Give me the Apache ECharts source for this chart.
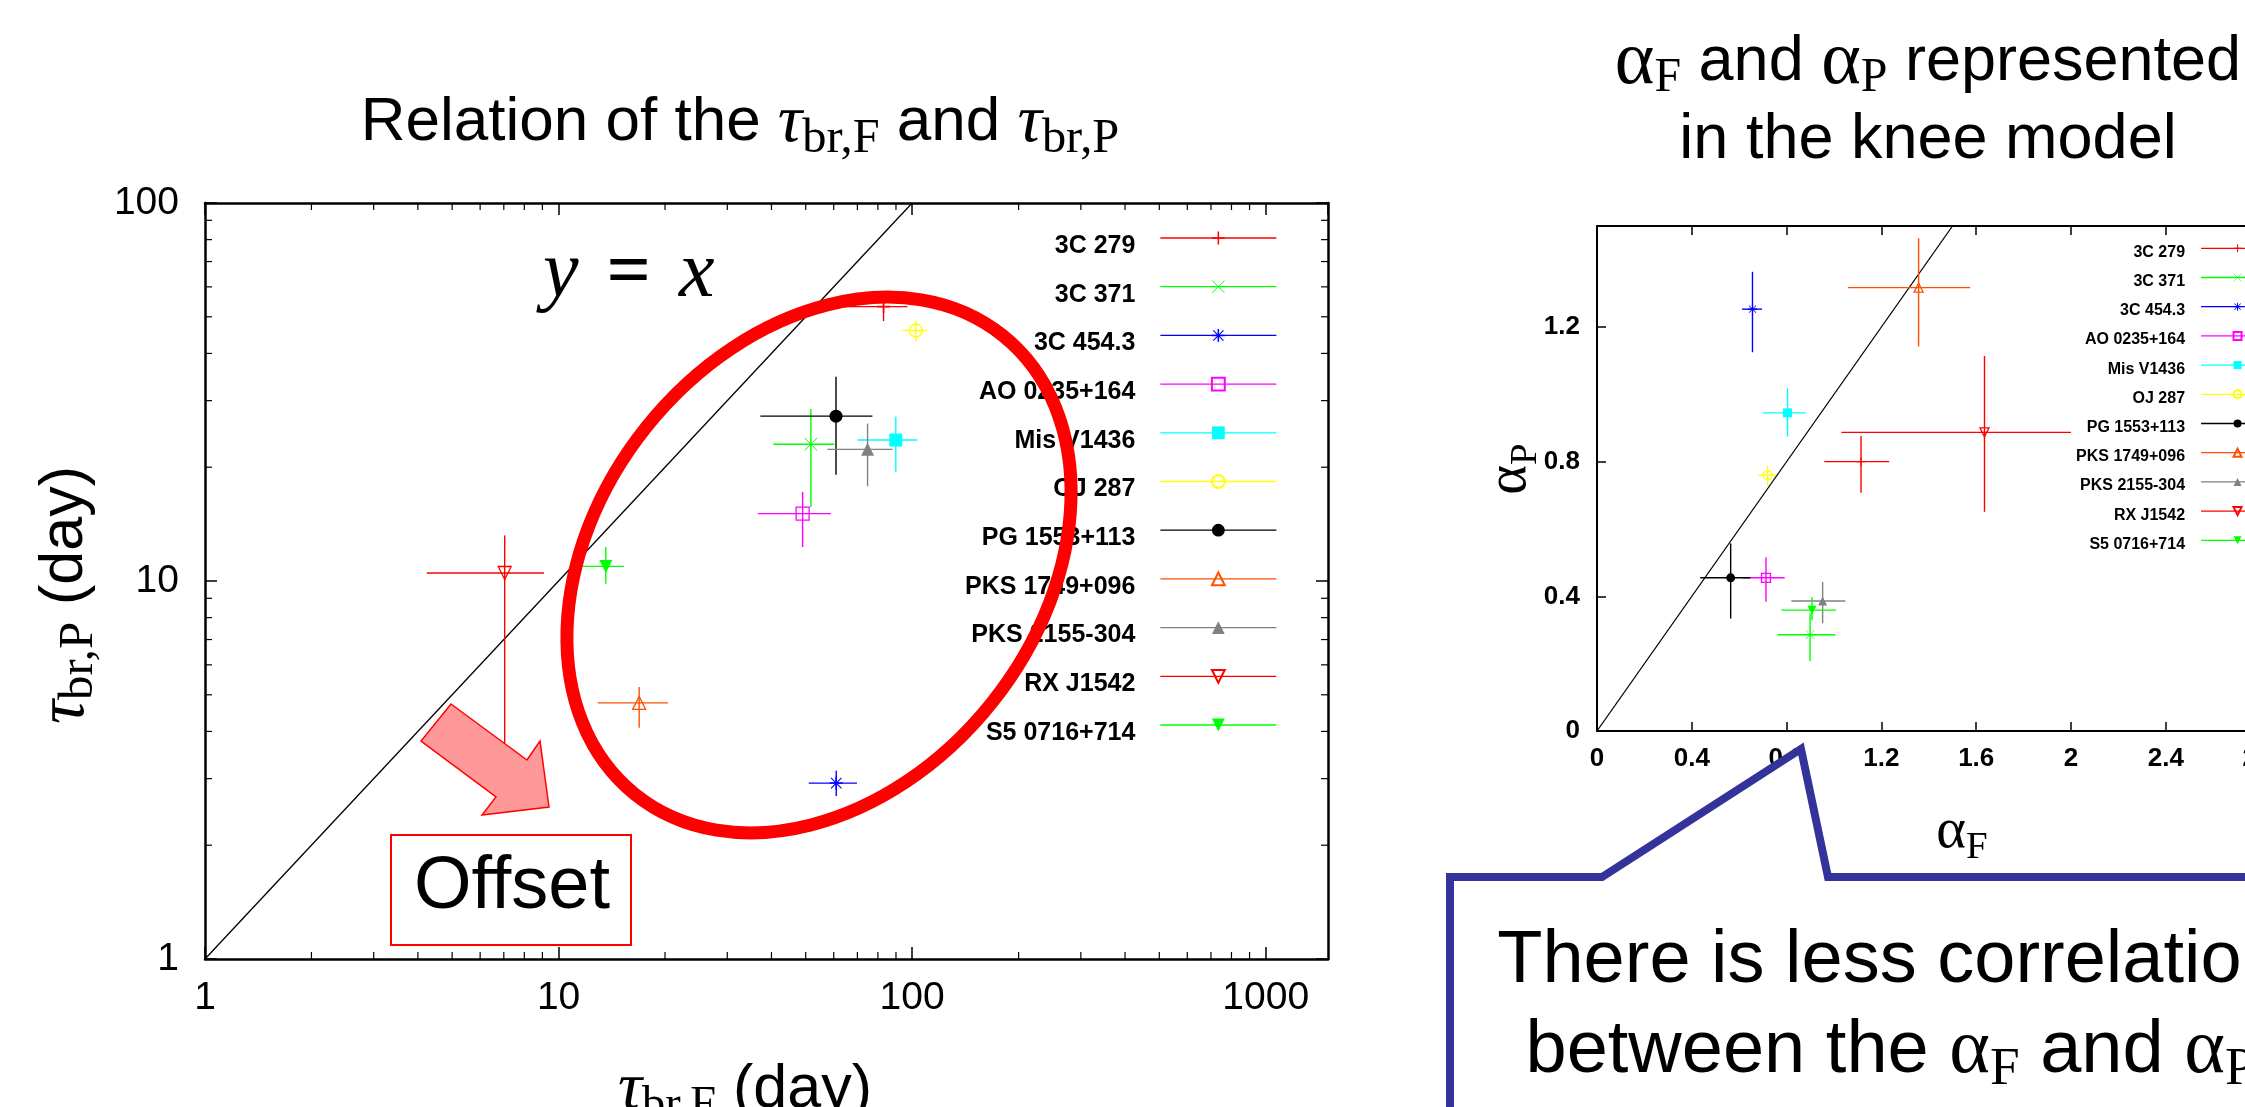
<!DOCTYPE html>
<html>
<head>
<meta charset="utf-8">
<script src="https://cdn.jsdelivr.net/npm/echarts@6/dist/echarts.min.js"></script>
<style>
html, body { margin: 0; padding: 0; background: #fff; }
#main { width: 2245px; height: 1107px; }
</style>
</head>
<body>
<div id="main"></div>
<script>
// sources, in gnuplot order
const names = ['3C 279', '3C 371', '3C 454.3', 'AO 0235+164', 'Mis V1436', 'OJ 287',
  'PG 1553+113', 'PKS 1749+096', 'PKS 2155-304', 'RX J1542', 'S5 0716+714'];
const colors = ['#ff0000', '#00ff00', '#0000ff', '#ff00ff', '#00ffff', '#ffff00',
  '#000000', '#ff5000', '#808080', '#ff0000', '#00ff00'];
const markers = ['plus', 'cross', 'star', 'openRect', 'rect', 'openCircle',
  'circle', 'openTriangle', 'triangle', 'openTriangleDown', 'triangleDown'];

// left panel: break times (day)
const tauF   = [83, 51.7, 61, 49, 89.9, 102.4, 60.9, 16.9, 74.8, 7.04, 13.6];
const tauFLo = [55, 40.5, 51, 36.6, 70.1, 93.9, 37.2, 12.9, 57.6, 4.24, 11.6];
const tauFHi = [97, 60.2, 69.8, 58.9, 103.5, 110.4, 77.2, 20.4, 88, 9.09, 15.3];
const tauP   = [53.2, 23.0, 2.92, 15.07, 23.6, 46.0, 27.3, 4.76, 22.3, 10.5, 10.93];
const tauPLo = [48.7, 15.7, 2.70, 12.3, 19.4, 43.1, 19.1, 4.09, 17.8, 3.6, 9.83];
const tauPHi = [55.4, 28.5, 3.15, 17.2, 27.2, 48.9, 34.7, 5.24, 26.1, 13.2, 12.3];

// right panel: indices in the knee model
const alphaF   = [1.114, 0.899, 0.656, 0.713, 0.804, 0.720, 0.564, 1.357, 0.952, 1.635, 0.907];
const alphaFLo = [0.959, 0.762, 0.612, 0.614, 0.699, 0.682, 0.436, 1.059, 0.820, 1.031, 0.778];
const alphaFHi = [1.233, 1.006, 0.696, 0.792, 0.882, 0.755, 0.647, 1.575, 1.048, 2.000, 1.009];
const alphaP   = [0.800, 0.286, 1.253, 0.455, 0.945, 0.760, 0.455, 1.317, 0.386, 0.887, 0.359];
const alphaPLo = [0.708, 0.207, 1.125, 0.384, 0.874, 0.728, 0.334, 1.142, 0.320, 0.651, 0.329];
const alphaPHi = [0.876, 0.349, 1.364, 0.516, 1.018, 0.788, 0.557, 1.464, 0.443, 1.114, 0.397];

// y = x reference lines
const diagLeft = [[1, 1], [100, 100]];
const diagRight = [[0, 0], [1.5, 1.5]];

// log minor tick positions
const minorX = [2, 3, 4, 5, 6, 7, 8, 9, 20, 30, 40, 50, 60, 70, 80, 90, 200, 300, 400, 500, 600, 700, 800, 900];
const minorY = [2, 3, 4, 5, 6, 7, 8, 9, 20, 30, 40, 50, 60, 70, 80, 90];

const PLUS = 'path://M0,4.4H10V5.6H0Z M4.4,0H5.6V10H4.4Z';
const CROSS = 'path://M0.4,0L10,9.6L9.6,10L0,0.4Z M9.6,0L10,0.4L0.4,10L0,9.6Z';
const STAR = 'path://M0,4.4H10V5.6H0Z M4.4,0H5.6V10H4.4Z M1.3,0.7L9.3,8.7L8.7,9.3L0.7,1.3Z M8.7,0.7L9.3,1.3L1.3,9.3L0.7,8.7Z';

function markerStyle(kind, color) {
  const open = {color: 'rgba(255,255,255,0)', borderColor: color, borderWidth: 1.3};
  const solid = {color: color, borderWidth: 0};
  switch (kind) {
    case 'plus': return {symbol: PLUS, itemStyle: solid};
    case 'cross': return {symbol: CROSS, itemStyle: solid};
    case 'star': return {symbol: STAR, itemStyle: solid};
    case 'openRect': return {symbol: 'rect', itemStyle: open};
    case 'rect': return {symbol: 'rect', itemStyle: solid};
    case 'openCircle': return {symbol: 'circle', itemStyle: open};
    case 'circle': return {symbol: 'circle', itemStyle: solid};
    case 'openTriangle': return {symbol: 'triangle', itemStyle: open};
    case 'triangle': return {symbol: 'triangle', itemStyle: solid};
    case 'openTriangleDown': return {symbol: 'triangle', symbolRotate: 180, itemStyle: open};
    default: return {symbol: 'triangle', symbolRotate: 180, itemStyle: solid};
  }
}

function errorBars(params, api) {
  const i = api.value(6);
  const l = api.coord([api.value(2), api.value(1)]);
  const r = api.coord([api.value(3), api.value(1)]);
  const t = api.coord([api.value(0), api.value(5)]);
  const b = api.coord([api.value(0), api.value(4)]);
  const st = {stroke: colors[i], lineWidth: 1.4};
  return {type: 'group', children: [
    {type: 'line', shape: {x1: l[0], y1: l[1], x2: r[0], y2: r[1]}, style: st},
    {type: 'line', shape: {x1: t[0], y1: t[1], x2: b[0], y2: b[1]}, style: st}
  ]};
}

function minorTicksX(params, api) {
  const cs = params.coordSys;
  const x = api.coord([api.value(0), api.value(1)])[0];
  const st = {stroke: '#000', lineWidth: 1.2};
  return {type: 'group', children: [
    {type: 'line', shape: {x1: x, y1: cs.y + cs.height, x2: x, y2: cs.y + cs.height - 7}, style: st},
    {type: 'line', shape: {x1: x, y1: cs.y, x2: x, y2: cs.y + 7}, style: st}
  ]};
}
function minorTicksY(params, api) {
  const cs = params.coordSys;
  const y = api.coord([api.value(0), api.value(1)])[1];
  const st = {stroke: '#000', lineWidth: 1.2};
  return {type: 'group', children: [
    {type: 'line', shape: {x1: cs.x, y1: y, x2: cs.x + 7, y2: y}, style: st},
    {type: 'line', shape: {x1: cs.x + cs.width, y1: y, x2: cs.x + cs.width - 7, y2: y}, style: st}
  ]};
}

// rich text sets: sans body, serif greek, serif subscript
function richSet(F, L, sub, greek) {
  const k = sub || 0.72;
  const g = greek || 1.05;
  return {
    n: {fontFamily: 'Liberation Sans', fontSize: F, lineHeight: L, color: '#000'},
    t: {fontFamily: 'Liberation Serif', fontStyle: 'italic', fontSize: F * 1.1, lineHeight: L, color: '#000'},
    a: {fontFamily: 'Liberation Serif', fontSize: F * g, lineHeight: L, color: '#000'},
    s: {fontFamily: 'Liberation Serif', fontSize: F * k, lineHeight: L - 0.61 * F, verticalAlign: 'bottom', color: '#000'}
  };
}

const series = [];
const leftBars = [], rightBars = [];
for (let i = 0; i < names.length; i++) {
  leftBars.push([tauF[i], tauP[i], tauFLo[i], tauFHi[i], tauPLo[i], tauPHi[i], i]);
  rightBars.push([alphaF[i], alphaP[i], alphaFLo[i], alphaFHi[i], alphaPLo[i], alphaPHi[i], i]);
}
series.push({type: 'custom', xAxisIndex: 0, yAxisIndex: 0, data: minorX.map(v => [v, 1]), renderItem: minorTicksX, silent: true, z: 1});
series.push({type: 'custom', xAxisIndex: 0, yAxisIndex: 0, data: minorY.map(v => [1, v]), renderItem: minorTicksY, silent: true, z: 1});
series.push({type: 'line', xAxisIndex: 0, yAxisIndex: 0, data: diagLeft, symbol: 'none', silent: true,
  lineStyle: {color: '#000', width: 1.3}, z: 1});
series.push({type: 'line', xAxisIndex: 2, yAxisIndex: 2, data: diagRight, symbol: 'none', silent: true,
  lineStyle: {color: '#000', width: 1.3}, z: 1});
series.push({type: 'custom', xAxisIndex: 0, yAxisIndex: 0, data: leftBars, encode: {x: 0, y: 1},
  renderItem: errorBars, silent: true, z: 2});
series.push({type: 'custom', xAxisIndex: 2, yAxisIndex: 2, data: rightBars, encode: {x: 0, y: 1},
  renderItem: errorBars, silent: true, z: 2});

names.forEach(function (name, i) {
  const m = markerStyle(markers[i], colors[i]);
  const base = {
    type: 'line', name: name, symbol: m.symbol, symbolRotate: m.symbolRotate || 0,
    itemStyle: m.itemStyle, lineStyle: {color: colors[i], width: 1.3, opacity: 0},
    showSymbol: true, silent: true, z: 3, emphasis: {disabled: true}
  };
  series.push(Object.assign({}, base, {xAxisIndex: 0, yAxisIndex: 0, symbolSize: 13, data: [[tauF[i], tauP[i]]]}));
  series.push(Object.assign({}, base, {xAxisIndex: 2, yAxisIndex: 2, symbolSize: 9, data: [[alphaF[i], alphaP[i]]]}));
});

function logAxis(grid, pos, min, max, labels) {
  return {
    gridIndex: grid, type: 'log', logBase: 10, min: min, max: max, position: pos,
    axisLine: {onZero: false, lineStyle: {color: '#000', width: 2.5}},
    axisTick: {inside: true, length: 12, lineStyle: {color: '#000', width: 1.5}},
    axisLabel: {show: labels, color: '#000', fontFamily: 'Liberation Sans', fontSize: 39,
      margin: pos === 'bottom' ? 20 : 26, showMaxLabel: pos === 'left',
      formatter: function (v) { return String(Math.round(v)); }},
    splitLine: {show: false}
  };
}
function valAxis(grid, pos, max, labels) {
  return {
    gridIndex: grid, type: 'value', min: 0, max: max, interval: 0.4, position: pos,
    axisLine: {onZero: false, lineStyle: {color: '#000', width: 2}},
    axisTick: {inside: true, length: 9, lineStyle: {color: '#000', width: 1.5}},
    axisLabel: {show: labels, color: '#000', fontFamily: 'Liberation Sans', fontWeight: 'bold',
      fontSize: 26, margin: pos === 'bottom' ? 15 : 17, showMaxLabel: false},
    splitLine: {show: false}
  };
}

function legendFor(right, top, w, h, gap, size, pad) {
  return {
    data: names, orient: 'vertical', align: 'right', padding: 0, selectedMode: false,
    right: right, top: top, itemWidth: w, itemHeight: h, itemGap: gap,
    lineStyle: {opacity: 1, width: 1.3},
    formatter: '{t|{name}}',
    textStyle: {color: '#000', fontSize: size, lineHeight: pad[1], padding: [pad[0], pad[2], 0, 0],
      rich: {t: {fontFamily: 'Liberation Sans', fontWeight: 'bold', fontSize: size, lineHeight: pad[1], color: '#000'}}}
  };
}

const option = {
  animation: false,
  backgroundColor: '#fff',
  grid: [
    {left: 205, top: 203, width: 1123, height: 756, outerBoundsMode: 'none'},
    {left: 1597, top: 226, width: 711, height: 505, outerBoundsMode: 'none'}
  ],
  xAxis: [
    logAxis(0, 'bottom', 1, 1500, true),
    logAxis(0, 'top', 1, 1500, false),
    valAxis(1, 'bottom', 3, true),
    valAxis(1, 'top', 3, false)
  ],
  yAxis: [
    logAxis(0, 'left', 1, 100, true),
    logAxis(0, 'right', 1, 100, false),
    valAxis(1, 'left', 1.5, true),
    valAxis(1, 'right', 1.5, false)
  ],
  legend: [
    legendFor(968, 223, 116, 16, 13.2, 25, [16, 14, 20]),
    legendFor(-29.7, 238.3, 73, 10, 7.2, 16, [8, 12, 11])
  ],
  series: series,
  graphic: [
    // titles
    {type: 'text', x: 740, y: 123, z: 100, style: {text: '{n|Relation of the }{t|τ}{s|br,F}{n| and }{t|τ}{s|br,P}',
      rich: richSet(62, 80, 0.78), align: 'center', verticalAlign: 'middle'}},
    {type: 'text', x: 1928, y: 24, z: 100, style: {text: '{a|α}{s|F}{n| and }{a|α}{s|P}{n| represented}\n{n|in the knee model}',
      rich: richSet(63, 78, 0.76, 1.2), align: 'center', verticalAlign: 'top'}},
    // axis names
    {type: 'text', x: 745, y: 1090, z: 100, style: {text: '{t|τ}{s|br,F}{n| (day)}',
      rich: richSet(61, 78, 0.76), align: 'center', verticalAlign: 'middle'}},
    {type: 'text', x: 65, y: 595, rotation: Math.PI / 2, z: 100, style: {text: '{t|τ}{s|br,P}{n| (day)}',
      rich: richSet(61, 78, 0.8), align: 'center', verticalAlign: 'middle'}},
    {type: 'text', x: 1962, y: 832, z: 100, style: {text: '{a|α}{s|F}',
      rich: richSet(54, 70), align: 'center', verticalAlign: 'middle'}},
    {type: 'text', x: 1510, y: 469, rotation: Math.PI / 2, z: 100, style: {text: '{a|α}{s|P}',
      rich: richSet(54, 70), align: 'center', verticalAlign: 'middle'}},
    // y = x label
    {type: 'text', x: 543, y: 275, z: 100, style: {text: '{i|y}{e|=}{i|x}', align: 'left', verticalAlign: 'middle',
      rich: {i: {fontFamily: 'Liberation Serif', fontStyle: 'italic', fontSize: 80, color: '#000'},
             e: {fontFamily: 'Liberation Serif', fontWeight: 'bold', fontSize: 78, color: '#000', padding: [0, 28, 0, 28]}}}},
    // red ellipse
    {type: 'ellipse', x: 819, y: 565, rotation: 0.895, z: 100, silent: true,
      shape: {cx: 0, cy: 0, rx: 294, ry: 221}, style: {fill: 'none', stroke: '#ff0000', lineWidth: 13}},
    // offset arrow
    {type: 'polygon', z: 100, silent: true,
      shape: {points: [[451, 704], [527, 760], [540, 741], [549, 807], [482, 815], [496, 797], [421, 741]]},
      style: {fill: '#ff9999', stroke: '#ff0000', lineWidth: 1.5}},
    {type: 'rect', z: 100, silent: true, shape: {x: 391, y: 835, width: 240, height: 110},
      style: {fill: '#fff', stroke: '#ff0000', lineWidth: 2}},
    {type: 'text', x: 512, y: 888, z: 101, style: {text: 'Offset', fill: '#000', fontFamily: 'Liberation Sans',
      fontSize: 74, align: 'center', verticalAlign: 'middle'}},
    // callout
    {type: 'polygon', z: 100, silent: true,
      shape: {points: [[1450, 1140], [1450, 877], [1602, 877], [1801, 749], [1828, 877], [2280, 877], [2280, 1140]]},
      style: {fill: '#fff', stroke: '#333399', lineWidth: 8, lineJoin: 'miter'}},
    {type: 'text', x: 1890, y: 917, z: 101, style: {text: '{n|There is less correlation}\n{n|between the }{a|α}{s|F}{n| and }{a|α}{s|P}',
      rich: richSet(74, 90), align: 'center', verticalAlign: 'top'}}
  ]
};

const chart = echarts.init(document.getElementById('main'));
chart.setOption(option);
</script>
</body>
</html>
